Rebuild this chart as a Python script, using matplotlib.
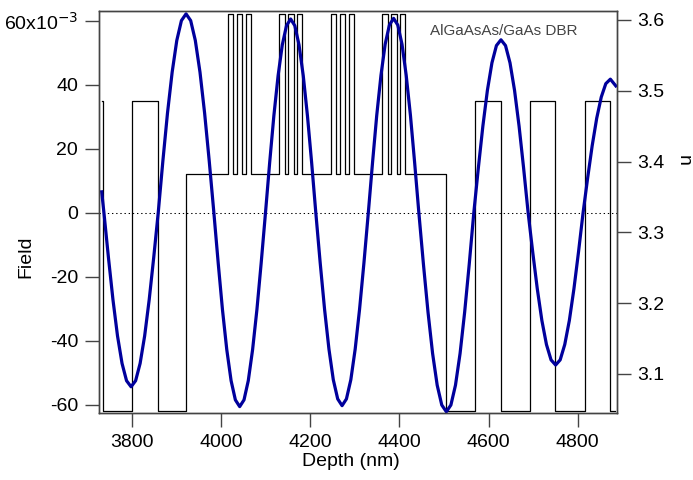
import matplotlib
matplotlib.use("Agg")
import matplotlib.pyplot as plt
import numpy as np

plt.rcParams['font.family'] = ['Liberation Sans', 'DejaVu Sans']

# Refractive index profile: layer boundaries (nm) and index of each layer
layer_edges = [3731, 3734, 3800, 3857.5, 3921,
               4015, 4027, 4035, 4047, 4055, 4067,
               4130, 4142, 4150, 4162, 4170, 4182,
               4246, 4258, 4266, 4278, 4286, 4298,
               4361.5, 4373.5, 4381.5, 4393.5, 4401.5, 4413.5,
               4505.5, 4570.5, 4629, 4693.5, 4750.5, 4817.5, 4873, 4885]
layer_n = [3.485, 3.048, 3.485, 3.048, 3.382,
           3.608, 3.382, 3.608, 3.382, 3.608, 3.382,
           3.608, 3.382, 3.608, 3.382, 3.608, 3.382,
           3.608, 3.382, 3.608, 3.382, 3.608, 3.382,
           3.608, 3.382, 3.608, 3.382, 3.608, 3.382,
           3.048, 3.485, 3.048, 3.485, 3.048, 3.485, 3.048]

# Optical field (x1e-3) versus depth (nm)
depth = [3731, 3736, 3746.2, 3756.3, 3766.5, 3776.7, 3786.8, 3797, 3807.2, 3817.3, 3827.5, 3837.7, 3847.8,
         3858, 3868.4, 3878.8, 3889.3, 3899.7, 3910.1, 3920.5, 3930.9, 3941.3, 3951.8, 3962.2, 3972.6,
         3983, 3992.7, 4002.3, 4012, 4021.7, 4031.3, 4041, 4050.7, 4060.3, 4070, 4079.7, 4089.3,
         4099, 4108.4, 4117.8, 4127.3, 4136.7, 4146.1, 4155.5, 4164.9, 4174.3, 4183.8, 4193.2, 4202.6,
         4212, 4221.8, 4231.7, 4241.5, 4251.3, 4261.2, 4271, 4280.8, 4290.7, 4300.5, 4310.3, 4320.2,
         4330, 4339.5, 4348.9, 4358.4, 4367.8, 4377.3, 4386.8, 4396.2, 4405.7, 4415.1, 4424.6, 4434,
         4443.5, 4453.8, 4464.1, 4474.4, 4484.7, 4495, 4505.3, 4515.5, 4525.8, 4536.1, 4546.4, 4556.7,
         4567, 4577.2, 4587.3, 4597.5, 4607.7, 4617.8, 4628, 4638.2, 4648.3, 4658.5, 4668.7, 4678.8,
         4689, 4699.3, 4709.6, 4719.9, 4730.2, 4740.5, 4750.8, 4761, 4771.3, 4781.6, 4791.9, 4802.2,
         4812.5, 4822.7, 4832.9, 4843.1, 4853.3, 4863.5, 4873.8, 4886]
field = [6.5, 0, -14.1, -27.2, -38.5, -47.1, -52.5, -54.4, -52.5, -47.1, -38.5, -27.2, -14.1,
         0, 16.1, 31.1, 43.9, 53.8, 60.0, 62.1, 60.0, 53.8, 43.9, 31.1, 16.1,
         0, -15.7, -30.3, -42.8, -52.5, -58.5, -60.6, -58.5, -52.5, -42.8, -30.3, -15.7,
         0, 15.7, 30.3, 42.8, 52.4, 58.4, 60.5, 58.4, 52.4, 42.8, 30.3, 15.7,
         0, -15.6, -30.2, -42.6, -52.2, -58.2, -60.3, -58.2, -52.2, -42.6, -30.2, -15.6,
         0, 15.7, 30.4, 42.9, 52.6, 58.6, 60.7, 58.6, 52.6, 42.9, 30.4, 15.7,
         0, -16.1, -31.1, -44.0, -53.9, -60.1, -62.2, -60.1, -53.9, -44.0, -31.1, -16.1,
         0, 14.0, 27.0, 38.2, 46.8, 52.2, 54.0, 52.2, 46.8, 38.2, 27.0, 14.0,
         0, -12.3, -23.8, -33.7, -41.2, -46.0, -47.6, -46.0, -41.2, -33.7, -23.8, -12.3,
         0, 10.8, 20.9, 29.5, 36.1, 40.3, 41.7, 39.6]

x_ticks = [3800, 4000, 4200, 4400, 4600, 4800]
field_ticks = [-60, -40, -20, 0, 20, 40, 60]
field_labels = ['-60', '-40', '-20', '0', '20', '40', '60x10$^{-3}$']
n_ticks = [3.1, 3.2, 3.3, 3.4, 3.5, 3.6]

fig = plt.figure(figsize=(6.93, 4.8), dpi=100)
ax = fig.add_axes([0.1429, 0.1402, 0.7470, 0.8369])
ax2 = ax.twinx()

# index profile on the right axis, drawn underneath
ax2.plot(layer_edges, layer_n + [layer_n[-1]], drawstyle='steps-post', color='black', lw=0.9)
ax2.set_ylim(3.0453, 3.6127)
ax2.set_yticks(n_ticks)
ax2.set_yticklabels([f'{v:.1f}' for v in n_ticks])

# field on the left axis, on top
ax.set_zorder(ax2.get_zorder() + 1)
ax.patch.set_visible(False)
ax.axhline(0, color='black', ls=(0, (1.3, 2.7)), lw=0.75)
ax.plot(depth, field, color='#00009C', lw=2.3, solid_joinstyle='round')
ax.text(4468, 56.9, 'AlGaAsAs/GaAs DBR', fontsize=11, color='#444444', va='center')

ax.set_xlim(3725, 4888)
ax.set_ylim(-62.5, 63.0)
ax.set_xticks(x_ticks)
ax.set_yticks(field_ticks)
ax.set_yticklabels(field_labels)

for a in (ax, ax2):
    a.tick_params(direction='out', length=10, width=1, labelsize=14, pad=5, color='#444444')
    for sp in a.spines.values():
        sp.set_color('#444444')
        sp.set_linewidth(1)

ax.set_xlabel('Depth (nm)', fontsize=14)
ax.xaxis.set_label_coords(0.486, -0.1)
ax.set_ylabel('Field', fontsize=14)
ax.yaxis.set_label_coords(-0.1256, 0.388)
ax2.set_ylabel('n', fontsize=14, rotation=-90, va='center', ha='center', rotation_mode='anchor')
ax2.yaxis.set_label_coords(1.128, 0.629)

fig.savefig('out.png', dpi=100)
